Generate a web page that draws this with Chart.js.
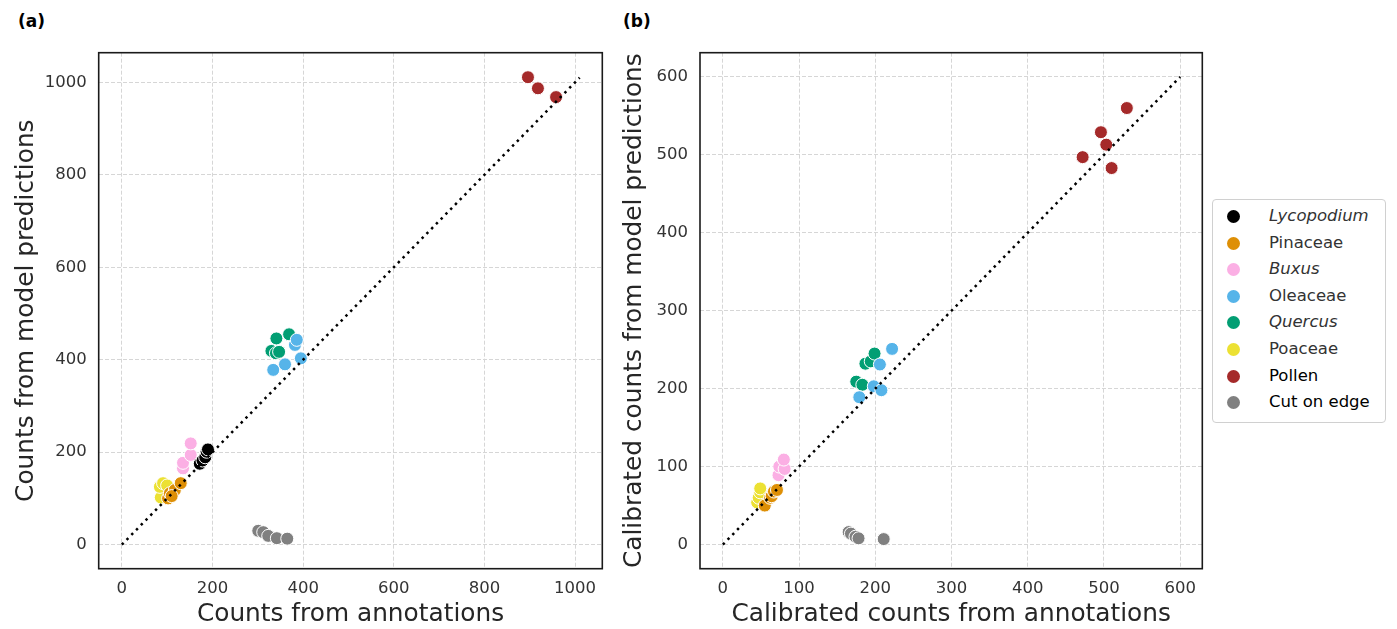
<!DOCTYPE html>
<html>
<head>
<meta charset="utf-8">
<script src="https://cdn.jsdelivr.net/npm/chart.js@4.4.1/dist/chart.umd.min.js"></script>
<style>
  body { margin: 0; background: #fff; width: 1397px; height: 629px; overflow: hidden; position: relative; font-family: "DejaVu Sans", sans-serif; }
  canvas { position: absolute; top: 0; }
  #chartA { left: 0; }
  #chartB { left: 610px; }
  .tag { position: absolute; top: 11px; font-weight: bold; font-size: 17px; color: #000; }
  #legend { position: absolute; left: 1212px; top: 199px; width: 172px; height: 219px; border: 1px solid #d0d0d0; border-radius: 4px; box-sizing: content-box; padding-top: 3px; }
  .item { position: relative; height: 26.6px; line-height: 26.6px; font-size: 16.5px; color: #333; }
  .item span.dot { position: absolute; left: 14px; top: 7px; width: 13px; height: 13px; border-radius: 50%; }
  .item span.lab { position: absolute; left: 56px; }
</style>
</head>
<body>
<div class="tag" style="left:18px">(a)</div>
<div class="tag" style="left:623px">(b)</div>
<canvas id="chartA" width="610" height="629"></canvas>
<canvas id="chartB" width="600" height="629"></canvas>
<div id="legend"></div>
<script>
const categories = ["Lycopodium", "Pinaceae", "Buxus", "Oleaceae", "Quercus", "Poaceae", "Pollen", "Cut on edge"];
const italicNames = ["Lycopodium", "Buxus", "Quercus"];
const palette = ["#000000", "#de8f05", "#fbafe4", "#56b4e9", "#029e73", "#ece133", "#a52a2a", "#808080"];

// panel (a): [annotations, model predictions]
const lycopodiumA = [[172, 175], [178, 182], [184, 189], [187, 201], [190, 206]];
const pinaceaeA = [[102, 100], [106, 111], [117, 118], [130, 133], [110, 105]];
const buxusA = [[135, 165], [135, 177], [152, 194], [152, 219]];
const oleaceaeA = [[334, 378], [360, 390], [382, 432], [386, 443], [395, 403]];
const quercusA = [[330, 419], [340, 414], [347, 417], [341, 446], [369, 455]];
const poaceaeA = [[86, 102], [84, 125], [91, 133], [100, 128]];
const pollenA = [[896, 1011], [918, 987], [958, 968]];
const cutA = [[301, 30], [312, 27], [323, 19], [342, 14], [365, 13]];

// panel (b): calibrated [annotations, model predictions]
const pinaceaeB = [[55, 50], [62, 60], [64, 62], [67, 68], [71, 70]];
const buxusB = [[73, 89], [74, 100], [81, 97], [80, 109]];
const oleaceaeB = [[179, 189], [198, 203], [208, 198], [206, 231], [222, 251]];
const quercusB = [[175, 209], [183, 205], [187, 232], [194, 235], [199, 245]];
const poaceaeB = [[45, 54], [47, 60], [49, 67], [49, 72]];
const pollenB = [[472, 497], [496, 529], [503, 513], [510, 483], [530, 560]];
const cutB = [[165, 16], [168, 14], [174, 10], [178, 8], [211, 7]];

const seriesA = [lycopodiumA, pinaceaeA, buxusA, oleaceaeA, quercusA, poaceaeA, pollenA, cutA];
const seriesB = [[], pinaceaeB, buxusB, oleaceaeB, quercusB, poaceaeB, pollenB, cutB];

const identityA = [0, 1010];
const identityB = [0, 600];

Chart.defaults.font.family = "'DejaVu Sans', sans-serif";
Chart.defaults.animation = false;

const frame = {
  id: "frame",
  afterDraw(chart) {
    const a = chart.chartArea;
    const ctx = chart.ctx;
    ctx.save();
    ctx.strokeStyle = "#1a1a1a";
    ctx.lineWidth = 1.6;
    ctx.strokeRect(a.left, a.top, a.right - a.left, a.bottom - a.top);
    ctx.restore();
  }
};

function buildDatasets(series, identity) {
  const ds = [{
    type: "line",
    data: identity.map(v => ({ x: v, y: v })),
    borderColor: "#000",
    borderWidth: 2.5,
    borderDash: [2.5, 4.3],
    pointRadius: 0,
    order: 0
  }];
  series.forEach((pts, i) => {
    ds.push({
      label: categories[i],
      data: pts.map(p => ({ x: p[0], y: p[1] })),
      backgroundColor: palette[i],
      borderColor: "#fff",
      borderWidth: 1,
      pointRadius: 6.5,
      order: 1
    });
  });
  return ds;
}

function axis(min, max, step, title, isY, fitSize, titlePad) {
  return {
    type: "linear",
    min: min,
    max: max,
    grid: { color: "#d6d6d6", lineWidth: 1, drawTicks: false },
    border: { display: false, dash: [4, 2] },
    ticks: {
      stepSize: step, includeBounds: false, color: "#333", font: { size: 16.5 }, padding: isY ? 12 : 10,
      callback: v => String(v)
    },
    title: { display: true, text: title, color: "#262626", font: { size: 24.8 }, padding: titlePad },
    afterFit(s) {
      if (isY) s.width = fitSize; else s.height = fitSize;
    }
  };
}

function makeChart(id, series, identity, xr, yr, step, xTitle, yTitle, leftW, yPad) {
  return new Chart(document.getElementById(id), {
    type: "scatter",
    data: { datasets: buildDatasets(series, identity) },
    options: {
      responsive: false,
      events: [],
      layout: { padding: { top: 52.7, right: 7.7, bottom: 0, left: 0 } },
      plugins: { legend: { display: false }, tooltip: { enabled: false } },
      scales: {
        x: axis(xr[0], xr[1], step, xTitle, false, 60.3, { top: 0, bottom: 0 }),
        y: axis(yr[0], yr[1], step, yTitle, true, leftW, { top: yPad, bottom: 0 })
      }
    },
    plugins: [frame]
  });
}

makeChart("chartA", seriesA, identityA, [-51, 1060], [-52, 1064], 200,
  "Counts from annotations", "Counts from model predictions", 98.7, 11.6);
makeChart("chartB", seriesB, identityB, [-30, 629], [-31, 631], 100,
  "Calibrated counts from annotations", "Calibrated counts from model predictions", 90, 9.6);

const legend = document.getElementById("legend");
categories.forEach((name, i) => {
  const style = italicNames.includes(name) ? "font-style:italic;" : "";
  const col = (name === "Pollen" || name === "Cut on edge") ? "color:#000;" : "";
  legend.innerHTML += `<div class="item"><span class="dot" style="background:${palette[i]}"></span><span class="lab" style="${style}${col}">${name}</span></div>`;
});
</script>
</body>
</html>
